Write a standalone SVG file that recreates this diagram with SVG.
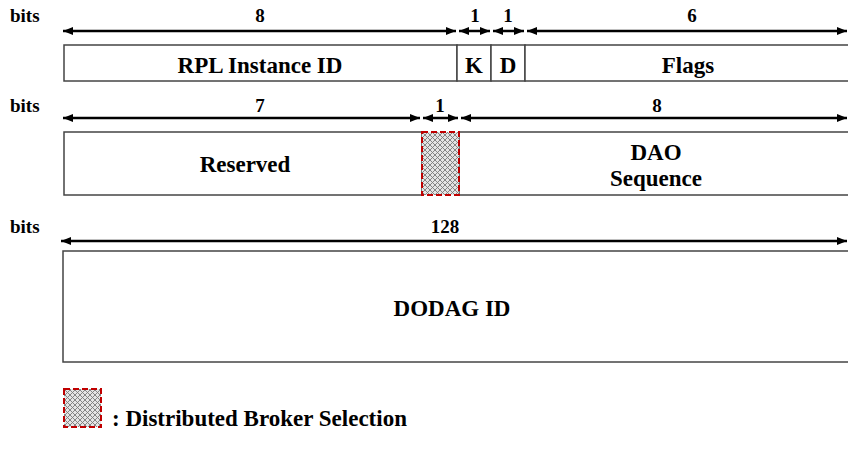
<svg xmlns="http://www.w3.org/2000/svg" width="848" height="454" viewBox="0 0 848 454">
<style>
text{font-family:"Liberation Serif","Times New Roman",serif;font-weight:bold;fill:#000}
.lbl{font-size:23px;text-anchor:middle}
.num{font-size:19px;text-anchor:middle}
.bits{font-size:19px}
.box{fill:#fff;stroke:#444;stroke-width:1.5}
.arr{stroke:#000;stroke-width:2.5;fill:none;marker-start:url(#ah);marker-end:url(#ah)}
.hatch{fill:url(#xh);stroke:#c00000;stroke-width:2;stroke-dasharray:6 3}
</style>
<defs>
<marker id="ah" viewBox="0 0 10 8" refX="10" refY="4" markerWidth="10" markerHeight="8" markerUnits="userSpaceOnUse" orient="auto-start-reverse">
<path d="M0,0 L10,4 L0,8 z" fill="#000"/>
</marker>
<pattern id="xh" width="5" height="5" patternUnits="userSpaceOnUse">
<rect width="5" height="5" fill="#e4e4e4"/>
<path d="M0,0 L5,5 M5,0 L0,5" stroke="#7a7a7a" stroke-width="0.9"/>
</pattern>
</defs>

<g id="labels">
<text class="bits" x="10" y="22">bits</text>
<text class="bits" x="10" y="112">bits</text>
<text class="bits" x="10" y="233">bits</text>
<text class="num" x="260" y="22">8</text>
<text class="num" x="475" y="22">1</text>
<text class="num" x="508" y="22">1</text>
<text class="num" x="692" y="22">6</text>
<text class="num" x="260" y="112">7</text>
<text class="num" x="440" y="112">1</text>
<text class="num" x="657" y="112">8</text>
<text class="num" x="445" y="233">128</text>
</g>

<g id="connectors">
<line class="arr" x1="63" y1="31" x2="456" y2="31"/>
<line class="arr" x1="459" y1="31" x2="490" y2="31"/>
<line class="arr" x1="493" y1="31" x2="524" y2="31"/>
<line class="arr" x1="527" y1="31" x2="847" y2="31"/>
<line class="arr" x1="63" y1="118" x2="420" y2="118"/>
<line class="arr" x1="423" y1="118" x2="458" y2="118"/>
<line class="arr" x1="461" y1="118" x2="847" y2="118"/>
<line class="arr" x1="61" y1="241" x2="847" y2="241"/>
</g>

<g id="rpl-instance-id">
<rect class="box" x="64" y="45" width="393" height="36"/>
<text class="lbl" x="260" y="73">RPL Instance ID</text>
</g>
<g id="k">
<rect class="box" x="457" y="45" width="34" height="36"/>
<text class="lbl" x="474" y="73">K</text>
</g>
<g id="d">
<rect class="box" x="491" y="45" width="34" height="36"/>
<text class="lbl" x="508" y="73">D</text>
</g>
<g id="flags">
<rect class="box" x="525" y="45" width="340" height="36"/>
<text class="lbl" x="688" y="73">Flags</text>
</g>

<g id="reserved">
<rect class="box" x="64" y="132" width="358" height="63"/>
<text class="lbl" x="245" y="172">Reserved</text>
</g>
<g id="dao-sequence">
<rect class="box" x="459" y="132" width="406" height="63"/>
<text class="lbl" x="656" y="160">DAO</text>
<text class="lbl" x="656" y="186">Sequence</text>
</g>
<g id="broker-bit">
<rect class="hatch" x="422" y="132" width="37" height="63"/>
</g>

<g id="dodag-id">
<rect class="box" x="63" y="251" width="802" height="111"/>
<text class="lbl" x="452" y="316">DODAG ID</text>
</g>

<g id="legend">
<rect class="hatch" x="64" y="389" width="37" height="38"/>
<text class="lbl" x="112" y="426" style="text-anchor:start">: Distributed Broker Selection</text>
</g>
</svg>
